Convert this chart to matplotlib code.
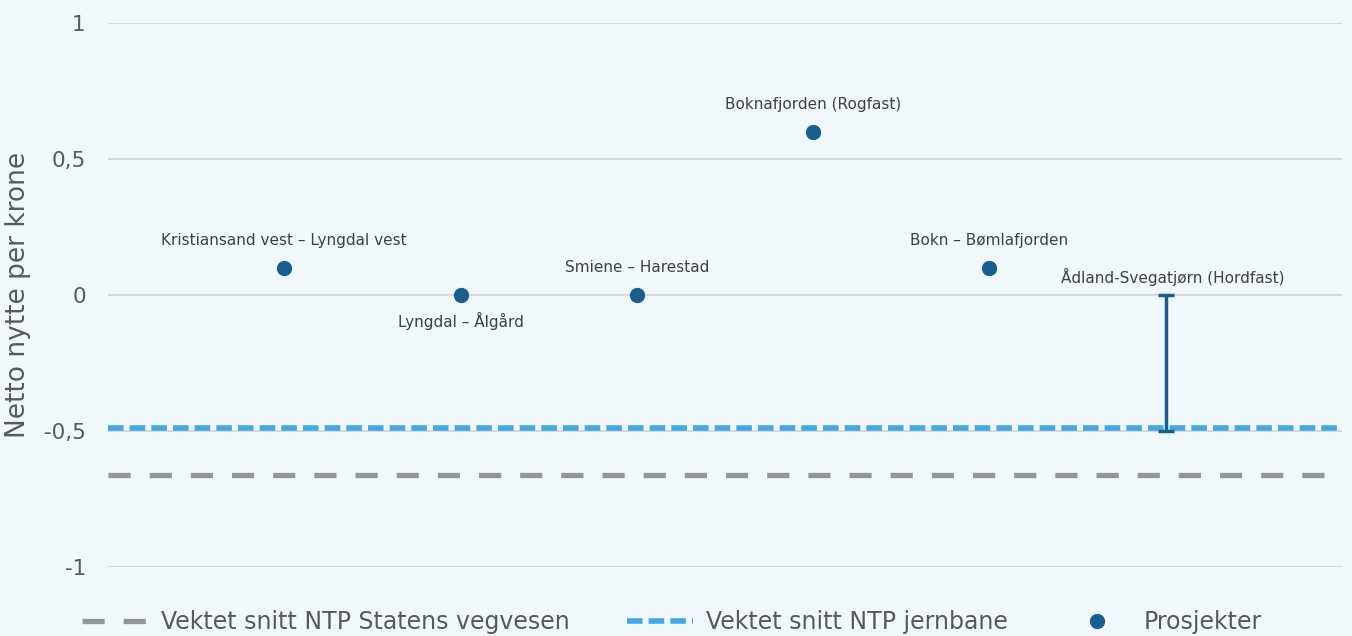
import matplotlib.pyplot as plt
from matplotlib.lines import Line2D

plt.rcParams['font.family'] = ['DejaVu Sans']

# prosjekter med netto nytte per krone
prosjekter = ["Kristiansand vest – Lyngdal vest", "Lyngdal – Ålgård", "Smiene – Harestad",
              "Boknafjorden (Rogfast)", "Bokn – Bømlafjorden"]
nytte = [0.1, 0.0, 0.0, 0.6, 0.1]
label_pos = ["over", "under", "over", "over", "over"]

# Hordfast er oppgitt som et spenn
hordfast_navn = "Ådland-Svegatjørn (Hordfast)"
hordfast_spenn = [-0.5, 0.0]

snitt_vegvesen = -0.66
snitt_jernbane = -0.49

yticks = [-1, -0.5, 0, 0.5, 1]
ytick_labels = ["-1", "-0,5", "0", "0,5", "1"]

bg = "#f1f8fb"
dark_blue = "#175e91"
light_blue = "#41a9e8"
grey = "#949598"
text_col = "#595959"

fig = plt.figure(figsize=(13.52, 6.36), dpi=100, facecolor=bg)
ax = fig.add_axes([0.0799, 0.1085, 0.9127, 0.8553], facecolor=bg)

ax.set_ylim(-1, 1)
ax.set_xlim(0, 7)
ax.set_yticks(yticks)
ax.set_yticklabels(ytick_labels)
ax.set_xticks([])
ax.grid(axis="y", color="#d9d9d9", linewidth=1.6)
ax.set_axisbelow(True)
ax.tick_params(axis="y", length=0, pad=16, labelsize=15.5, labelcolor=text_col)
for s in ax.spines.values():
    s.set_visible(False)
ax.set_ylabel("Netto nytte per krone", fontsize=19, color=text_col, labelpad=9)

ax.axhline(snitt_vegvesen, color=grey, linewidth=3.8, dashes=(4.2, 3.6), zorder=2)
ax.axhline(snitt_jernbane, color=light_blue, linewidth=4, dashes=(2.8, 1.1), zorder=2)

xs = list(range(1, len(prosjekter) + 1))
ax.plot(xs, nytte, "o", color=dark_blue, markersize=10, zorder=4)

for x, y, navn, pos in zip(xs, nytte, prosjekter, label_pos):
    dy = 0.1 if pos == "over" else -0.095
    ax.text(x, y + dy, navn, ha="center", va="center", fontsize=11, color="#404040")

# Hordfast som vertikalt spenn
hx = len(prosjekter) + 1
mid = sum(hordfast_spenn) / 2
half = (hordfast_spenn[1] - hordfast_spenn[0]) / 2
ax.errorbar([hx], [mid], yerr=[half], fmt="none", ecolor=dark_blue, elinewidth=2.5,
            capsize=6, capthick=2.5, zorder=5)
ax.text(hx + 0.04, hordfast_spenn[1] + 0.068, hordfast_navn, ha="center", va="center",
        fontsize=11, color="#404040")

handles = [
    Line2D([], [], color=grey, linewidth=3.8, dashes=(4.2, 3.6)),
    Line2D([], [], color=light_blue, linewidth=4, dashes=(2.8, 1.1)),
    Line2D([], [], color=dark_blue, marker="o", linestyle="none", markersize=10),
]
fig.legend(handles, ["Vektet snitt NTP Statens vegvesen", "Vektet snitt NTP jernbane", "Prosjekter"],
           loc="center", bbox_to_anchor=(0.497, 0.022), ncol=3, frameon=False,
           fontsize=17, labelcolor=text_col, handlelength=2.8, columnspacing=2.4,
           handletextpad=0.55)

fig.savefig("out.png", dpi=100, facecolor=bg)
